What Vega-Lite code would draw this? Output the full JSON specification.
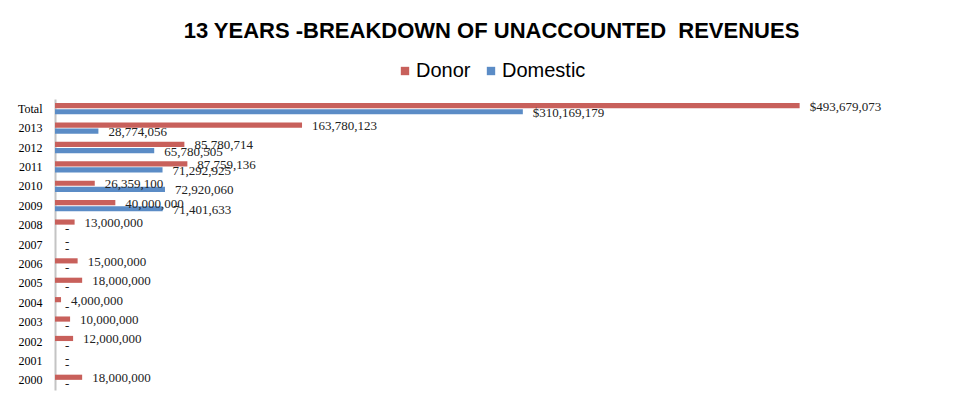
{
  "$schema": "https://vega.github.io/schema/vega-lite/v6.json",
  "width": 905,
  "height": 291,
  "autosize": {"type": "none"},
  "padding": {"left": 55, "top": 99, "right": 16, "bottom": 14},
  "background": "white",
  "title": {
    "text": "13 YEARS -BREAKDOWN OF UNACCOUNTED\u00a0 REVENUES",
    "font": "Liberation Sans Narrow, Arial Narrow, Liberation Sans",
    "fontSize": 22,
    "fontWeight": "bold",
    "color": "black",
    "anchor": "middle",
    "dx": -16,
    "offset": 18
  },
  "data": {
    "values": [
      {"year": "Total", "series": "Donor", "value": 493679073, "label": "$493,679,073"},
      {"year": "Total", "series": "Domestic", "value": 310169179, "label": "$310,169,179"},
      {"year": "2013", "series": "Donor", "value": 163780123, "label": "163,780,123"},
      {"year": "2013", "series": "Domestic", "value": 28774056, "label": "28,774,056"},
      {"year": "2012", "series": "Donor", "value": 85780714, "label": "85,780,714"},
      {"year": "2012", "series": "Domestic", "value": 65780505, "label": "65,780,505"},
      {"year": "2011", "series": "Donor", "value": 87759136, "label": "87,759,136"},
      {"year": "2011", "series": "Domestic", "value": 71292925, "label": "71,292,925"},
      {"year": "2010", "series": "Donor", "value": 26359100, "label": "26,359,100"},
      {"year": "2010", "series": "Domestic", "value": 72920060, "label": "72,920,060"},
      {"year": "2009", "series": "Donor", "value": 40000000, "label": "40,000,000"},
      {"year": "2009", "series": "Domestic", "value": 71401633, "label": "71,401,633"},
      {"year": "2008", "series": "Donor", "value": 13000000, "label": "13,000,000"},
      {"year": "2008", "series": "Domestic", "value": 0, "label": "-"},
      {"year": "2007", "series": "Donor", "value": 0, "label": "-"},
      {"year": "2007", "series": "Domestic", "value": 0, "label": "-"},
      {"year": "2006", "series": "Donor", "value": 15000000, "label": "15,000,000"},
      {"year": "2006", "series": "Domestic", "value": 0, "label": "-"},
      {"year": "2005", "series": "Donor", "value": 18000000, "label": "18,000,000"},
      {"year": "2005", "series": "Domestic", "value": 0, "label": "-"},
      {"year": "2004", "series": "Donor", "value": 4000000, "label": "4,000,000"},
      {"year": "2004", "series": "Domestic", "value": 0, "label": "-"},
      {"year": "2003", "series": "Donor", "value": 10000000, "label": "10,000,000"},
      {"year": "2003", "series": "Domestic", "value": 0, "label": "-"},
      {"year": "2002", "series": "Donor", "value": 12000000, "label": "12,000,000"},
      {"year": "2002", "series": "Domestic", "value": 0, "label": "-"},
      {"year": "2001", "series": "Donor", "value": 0, "label": "-"},
      {"year": "2001", "series": "Domestic", "value": 0, "label": "-"},
      {"year": "2000", "series": "Donor", "value": 18000000, "label": "18,000,000"},
      {"year": "2000", "series": "Domestic", "value": 0, "label": "-"}
    ]
  },
  "encoding": {
    "y": {
      "field": "year",
      "type": "nominal",
      "sort": ["Total", "2013", "2012", "2011", "2010", "2009", "2008", "2007", "2006", "2005", "2004", "2003", "2002", "2001", "2000"],
      "scale": {"paddingInner": 0.42, "paddingOuter": 0.21},
      "axis": {
        "title": null,
        "ticks": false,
        "domainColor": "#c4c4c4",
        "domainWidth": 2,
        "labelFont": "Liberation Serif",
        "labelFontSize": 12,
        "labelColor": "black",
        "labelPadding": 13
      }
    },
    "yOffset": {
      "field": "series",
      "type": "nominal",
      "sort": ["Donor", "Domestic"],
      "scale": {"paddingInner": 0.15}
    },
    "x": {
      "field": "value",
      "type": "quantitative",
      "scale": {"domain": [0, 600000000]},
      "axis": null
    }
  },
  "layer": [
    {
      "mark": {"type": "bar"},
      "encoding": {
        "color": {
          "field": "series",
          "type": "nominal",
          "sort": ["Donor", "Domestic"],
          "scale": {"domain": ["Donor", "Domestic"], "range": ["#C8605B", "#5B8CC6"]},
          "legend": {
            "title": null,
            "orient": "none",
            "direction": "horizontal",
            "legendX": 340,
            "legendY": -38,
            "symbolType": "square",
            "symbolSize": 70,
            "symbolStrokeWidth": 0,
            "labelFont": "Liberation Sans Narrow, Arial Narrow, Liberation Sans",
            "labelFontSize": 20,
            "labelColor": "black",
            "labelOffset": 1,
            "columnPadding": 10
          }
        }
      }
    },
    {
      "mark": {"type": "text", "align": "left", "baseline": "middle", "dx": 10, "dy": 1, "font": "Liberation Serif", "fontSize": 13, "color": "#222222"},
      "encoding": {"text": {"field": "label", "type": "nominal"}}
    }
  ],
  "config": {"view": {"stroke": null}}
}
